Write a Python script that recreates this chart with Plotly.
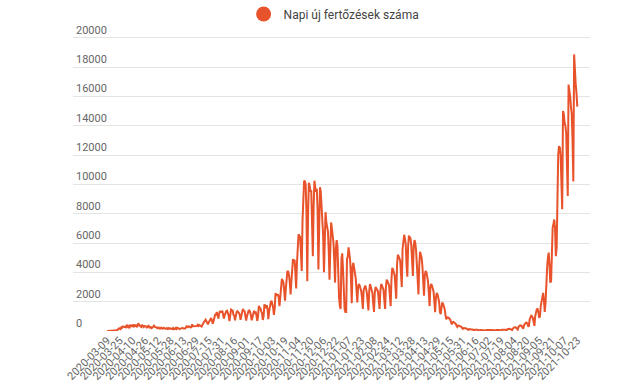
import pandas as pd
import plotly.graph_objects as go

series_name = "Napi új fertőzések száma"

mar20 = [2, 10, 3, 12, 41, 36, 15, 29, 26, 33, 31, 31, 59, 66, 143, 186, 144, 123, 263, 232, 308, 293, 263]
apr20 = [249, 346, 270, 361, 306, 194, 424, 334, 360, 326, 445, 310, 327, 433, 325, 265, 523, 477, 388,
         307, 273, 419, 334, 272, 348, 319, 309, 212, 312, 397]
may20 = [268, 228, 263, 193, 232, 277, 359, 278, 270, 263, 190, 190, 238, 169, 155, 225, 146,
         153, 223, 194, 190, 146, 196, 145, 191, 142, 190, 181, 144, 126, 205]
jun20 = [119, 139, 200, 133, 219, 180, 187, 129, 161, 163, 198, 214, 168, 149, 168, 214, 320, 302, 260, 320, 269,
         239, 258, 460, 325, 321, 334, 350, 308, 340]
jul20 = [423, 346, 402, 384, 352, 298, 430, 555, 614, 698, 777, 695, 536, 456, 603, 714, 731, 889, 698,
         494, 686, 1030, 1112, 1120, 1284, 1119, 841, 1151, 1356, 1295, 1295]
aug20 = [1376, 1153, 843, 1079, 1232, 1345, 1378, 1215, 1060, 682, 1145, 1454, 1415, 1408, 1107, 1063,
         724, 1048, 1298, 1346, 1301, 1221, 1096, 768, 1053, 1261, 1504, 1378, 1353, 1060, 718]
sep20 = [982, 1271, 1365, 1401, 1311, 1063, 732, 960, 1310, 1376, 1189, 1339, 1059, 700, 1003, 1713, 1591, 1543,
         1339, 1222, 755, 1016, 1767, 1752, 1561, 1767, 1470, 809, 1345, 1735]
oct20 = [1958, 2069, 1894, 1591, 1096, 1564, 2580, 2450, 2400, 2500, 2300, 1693, 2343, 3300, 3550, 3450, 3300, 2700,
         2061, 2900, 4000, 4100, 4050, 3800, 3300, 2500, 3400, 4700, 4900, 4800, 4850]
nov20 = [4000, 2900, 4600, 6300, 6600, 6500, 6400, 5400, 4100, 7500, 9800, 10250, 10200, 10000, 8000,
         3400, 8000, 10100, 9900, 9500, 9600, 7500, 5100, 8500, 10250, 9800, 9500, 9700, 8200, 4200]
dec20 = [8200, 9800, 9500, 8500, 8100, 6500, 4000, 6400, 8100, 7400, 7000, 6800, 5500, 3500, 5500, 7400, 7000,
         6500, 6000, 4800, 3300, 5600, 6200, 5800, 3600, 2300, 1700, 1500, 4900, 5300, 4200]
jan21 = [2500, 1500, 1300, 1300, 4900, 5100, 5700, 5200, 4800, 3600, 1900, 4400, 4650, 4300, 3900, 3600, 2800,
         1950, 3000, 3200, 3100, 2900, 2700, 2200, 1500, 2800, 3000, 3100, 2900, 2600, 2000]
feb21 = [1400, 2700, 3200, 3000, 2800, 2600, 1900, 1300, 2600, 3000, 2900, 2800, 2700, 2100,
         1500, 2700, 3200, 3100, 2900, 2800, 2100, 1500, 3000, 3500, 3400, 3300, 3100, 2400]
mar21 = [1700, 3500, 4300, 4200, 4000, 3800, 3000, 2200, 4500, 5200, 5100, 5000, 4800, 3900, 3000, 5600, 6200,
         6560, 6300, 5900, 4500, 3700, 5800, 6500, 6400, 6300, 5800, 4400, 3750, 5800, 6200]
apr21 = [6000, 5500, 4500, 3000, 2500, 4500, 5400, 5200, 5000, 4400, 3300, 2400, 3800, 4100, 4000, 3700, 3400,
         2600, 1700, 3000, 3200, 3100, 2900, 2700, 2000, 1280, 2300, 2600, 2500, 2300]
may21 = [2000, 1300, 1150, 1600, 1950, 1850, 1700, 1500, 1100, 800, 900, 930, 900, 850, 780, 600,
         450, 600, 620, 580, 540, 480, 350, 280, 380, 360, 340, 320, 280, 200, 150]
jun21 = [200, 210, 190, 170, 150, 110, 70, 130, 140, 120, 110, 100, 70, 50, 90, 100, 90, 80, 70, 50,
         30, 70, 80, 75, 70, 60, 40, 25, 60, 70]
jul21 = [65, 60, 50, 30, 20, 50, 60, 70, 60, 40, 25, 70, 80, 90, 85, 70, 45, 30, 90, 100, 110, 100, 90, 60,
         40, 120, 140, 160, 150, 130]
aug21 = [90, 60, 180, 230, 260, 250, 230, 150, 100, 280, 350, 380, 370, 340, 230, 160, 400, 500, 560, 570, 520, 350,
         300, 780, 950, 1050, 1000, 900, 620, 350, 1000]
sep21 = [1250, 1480, 1500, 1300, 900, 1000, 1700, 2000, 2300, 2600, 2100, 1300, 1900, 4000, 4300, 5000, 5340, 4500,
         3300, 3400, 5700, 7050, 7300, 7600, 7000, 5100, 5700, 11000, 12050, 12600]
oct21 = [12500, 12000, 9500, 8300, 15000, 14800, 14200, 14000, 13500, 11000, 9200, 16800, 16500, 16000, 15300,
         14800, 13000, 10200, 18860, 17500, 16800, 16200, 15300]

values = (mar20 + apr20 + may20 + jun20 + jul20 + aug20 + sep20 + oct20 + nov20 + dec20 +
          jan21 + feb21 + mar21 + apr21 + may21 + jun21 + jul21 + aug21 + sep21 + oct21)

dates = [d.strftime("%Y-%m-%d") for d in pd.date_range("2020-03-09", "2021-10-23") if d.strftime("%Y-%m-%d") != "2021-07-10"]
assert len(dates) == len(values), (len(dates), len(values))

tick_labels = ["2020-03-09", "2020-03-25", "2020-04-10", "2020-04-26", "2020-05-12", "2020-05-28", "2020-06-13",
               "2020-06-29", "2020-07-15", "2020-07-31", "2020-08-16", "2020-09-01", "2020-09-17", "2020-10-03",
               "2020-10-19", "2020-11-04", "2020-11-20", "2020-12-06", "2020-12-22", "2021-01-07", "2021-01-23",
               "2021-02-08", "2021-02-24", "2021-03-12", "2021-03-28", "2021-04-13", "2021-04-29", "2021-05-15",
               "2021-05-31", "2021-06-16", "2021-07-02", "2021-07-19", "2021-08-04", "2021-08-20", "2021-09-05",
               "2021-09-21", "2021-10-07", "2021-10-23"]

y_ticks = list(range(0, 20001, 2000))
y_labels = [str(v) for v in y_ticks]

color = "#E8532B"
font = "Roboto, Arial, sans-serif"

fig = go.Figure()
fig.add_trace(go.Scatter(x=dates, y=values, mode="lines", line=dict(color=color, width=2),
                         showlegend=False, name=series_name))
fig.add_trace(go.Scatter(x=[None], y=[None], mode="markers", marker=dict(color=color, size=15),
                         name=series_name, showlegend=True))

fig.update_layout(
    width=634, height=385,
    margin=dict(l=73, r=44, t=23, b=54, autoexpand=False),
    paper_bgcolor="white", plot_bgcolor="white",
    font=dict(family=font, size=11, color="#666666"),
    legend=dict(orientation="h", xref="container", x=0.527, xanchor="center",
                yref="container", y=1 - 14 / 385, yanchor="middle",
                font=dict(size=12, color="#444444"), bgcolor="rgba(0,0,0,0)", itemsizing="trace"),
    xaxis=dict(type="category", categoryorder="array", categoryarray=dates,
               tickmode="array", tickvals=tick_labels, ticktext=tick_labels,
               tickangle=-45, showgrid=False, showline=False, zeroline=False, ticks="",
               range=[-43, 608], automargin=False, tickfont=dict(size=11, color="#666666")),
    yaxis=dict(range=[0, 21000], tickmode="array", tickvals=y_ticks, ticktext=y_labels,
               showgrid=True, gridcolor="#e4e4e4", gridwidth=1,
               zeroline=False, showline=False, ticks="", ticklabelposition="inside top",
               automargin=False, tickfont=dict(size=11, color="#666666")),
)

fig.write_html("out.html", config={"displayModeBar": False},
               post_script="document.body.style.margin='0px';")
